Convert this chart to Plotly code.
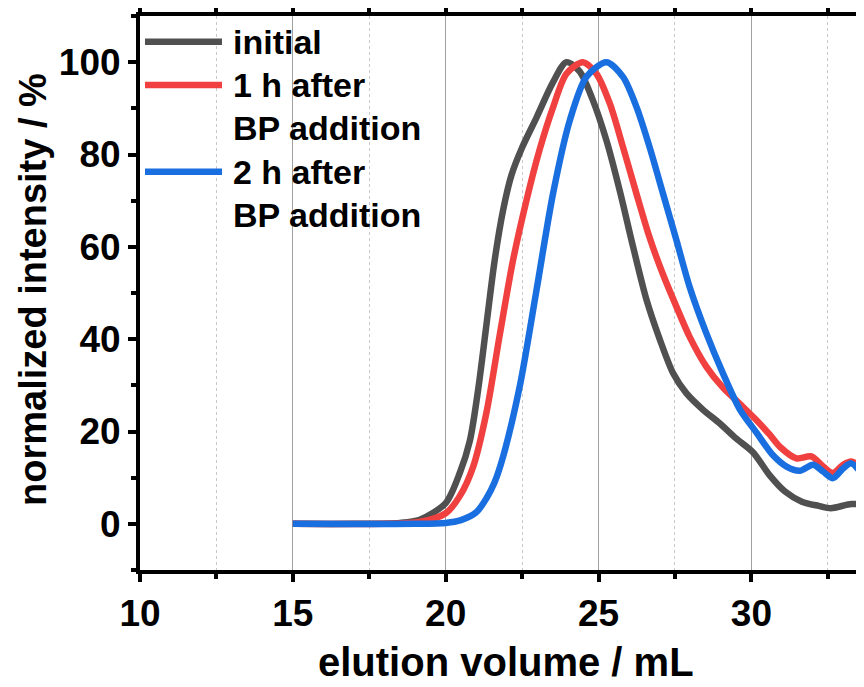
import plotly.graph_objects as go

# ---- data ----
initial_x = [15, 17, 18.5, 19.15, 20, 20.46, 20.79, 21.06, 21.33, 21.6, 21.88, 22.15, 22.5, 22.97,
             23.5, 23.95, 24.38, 24.8, 25.26, 25.7, 26.13, 26.57, 27.0, 27.44, 27.87, 28.42, 28.96,
             29.5, 30.05, 30.6, 31.1, 31.65, 32.2, 32.6, 33.27, 33.7, 34.0]
initial_y = [0, 0, 0.2, 0.9, 4.5, 11, 18, 29, 43, 57, 68, 75.5, 81.5, 88,
             95.5, 100, 98, 92, 83, 72, 60, 48.5, 40, 32.6, 28.3, 24.7, 21.8,
             18.5, 15.5, 10.5, 7.0, 4.8, 3.9, 3.4, 4.3, 4.1, 3.8]

h1_x = [15, 18, 19.15, 20, 20.46, 20.9, 21.33, 21.77, 22.2, 22.64, 23.07, 23.5, 23.95, 24.49,
        24.93, 25.37, 25.8, 26.24, 26.67, 27.11, 27.55, 27.98, 28.53, 29.07, 29.62, 30.16,
        30.6, 30.93, 31.47, 31.96, 32.35, 32.67, 33.0, 33.27, 33.7, 34.0]
h1_y = [0, 0, 0.4, 2.3, 6, 12.4, 24, 41, 57, 70, 81, 90, 97.5, 100,
        97.5, 91, 81.6, 71.5, 62, 54, 47, 40.5, 34, 29.5, 26, 22.5,
        19.3, 16.7, 14.2, 14.6, 12.4, 11, 12.8, 13.5, 12, 10.5]

h2_x = [15, 19, 20.0, 20.5, 21.0, 21.33, 21.6, 21.88, 22.42, 22.97, 23.51, 24.06, 24.6, 25.26, 25.8,
        26.24, 26.67, 27.11, 27.55, 27.98, 28.53, 29.07, 29.62, 30.16, 30.7, 31.15, 31.58,
        32.02, 32.35, 32.67, 33.0, 33.27, 33.7, 34.0]
h2_y = [0, 0, 0.2, 0.8, 2.5, 5.5, 9, 14.6, 29.7, 50.6, 71.5, 87.4, 96.8, 100, 96.8,
        90.3, 81.6, 71.5, 61.4, 51.3, 41.2, 32.6, 24.8, 19.8, 14.9, 12.4, 11.5,
        12.8, 11.3, 9.9, 12, 13.1, 10.2, 8.5]

series_names = ["initial", "1 h after<br>BP addition", "2 h after<br>BP addition"]
series_colors = ["#505050", "#f04040", "#1a6fe0"]

x_ticks = [10, 15, 20, 25, 30]
y_ticks = [0, 20, 40, 60, 80, 100]

FONT = "Arial, 'Liberation Sans', sans-serif"

# page geometry (the html body adds an 8 px offset)
top_px, bot_px, left_px, width_px = 16, 570, 140, 732
def py(p):
    return (bot_px - p) / (bot_px - top_px)
def px(p):
    return (p - left_px) / width_px

fig = go.Figure()
for xs, ys, name, col in zip([initial_x, h1_x, h2_x], [initial_y, h1_y, h2_y],
                             series_names, series_colors):
    fig.add_trace(go.Scatter(x=xs, y=ys, mode="lines", name=name,
                             line=dict(color=col, width=6.5, shape="spline", smoothing=0.8),
                             showlegend=False))

# manual legend (long line samples as in the reference)
leg_rows = [(41.7, ["initial"]), (85, ["1 h after", "BP addition"]), (171.7, ["2 h after", "BP addition"])]
for (ypix, lines), col in zip(leg_rows, series_colors):
    fig.add_shape(type="line", xref="paper", yref="paper",
                  x0=px(145), x1=px(222), y0=py(ypix), y1=py(ypix),
                  line=dict(color=col, width=6.5))
    for i, t in enumerate(lines):
        fig.add_annotation(text=t, xref="paper", yref="paper", x=px(231), y=py(ypix + 43 * i),
                           xanchor="left", yanchor="middle", showarrow=False,
                           font=dict(family=FONT, size=34, color="black", weight="bold"))

# right-edge tick stubs (cut-off right axis)
for v in y_ticks:
    fig.add_shape(type="line", xref="paper", yref="y", x0=px(861), x1=px(868), y0=v, y1=v,
                  line=dict(color="black", width=4))

# axis titles
fig.add_annotation(text="elution volume / mL", xref="paper", yref="paper",
                   x=px(506), y=py(662), xanchor="center", yanchor="middle", showarrow=False,
                   font=dict(family=FONT, size=40, color="black", weight="bold"))
fig.add_annotation(text="normalized intensity / %", xref="paper", yref="paper",
                   x=px(33), y=py(290), xanchor="center", yanchor="middle", showarrow=False,
                   textangle=-90,
                   font=dict(family=FONT, size=38, color="black", weight="bold"))

fig.update_layout(
    width=864, height=687,
    margin=dict(l=132, r=0, t=8, b=125, autoexpand=False),
    plot_bgcolor="white", paper_bgcolor="white",
    font=dict(family=FONT, color="black"),
)
fig.update_xaxes(range=[10, 10 + 732 / 30.57], tickvals=x_ticks,
                 showline=True, linewidth=4, linecolor="black", mirror="allticks",
                 ticks="outside", ticklen=8, tickwidth=4, tickcolor="black",
                 tickfont=dict(family=FONT, size=37, color="black", weight="bold"),
                 showgrid=True, gridcolor="#a0a0a0", gridwidth=1, zeroline=False,
                 minor=dict(dtick=2.5, tick0=10, ticks="outside", ticklen=5, tickwidth=4,
                            tickcolor="black", showgrid=True, gridcolor="#c8c8c8",
                            griddash="dot", gridwidth=1))
fig.update_yaxes(range=[-10, 110], tickvals=y_ticks,
                 showline=True, linewidth=4, linecolor="black", mirror=False,
                 ticks="outside", ticklen=8, tickwidth=4, tickcolor="black",
                 tickfont=dict(family=FONT, size=37, color="black", weight="bold"),
                 showgrid=False, zeroline=False,
                 minor=dict(dtick=10, tick0=-10, ticks="outside", ticklen=5, tickwidth=4,
                            tickcolor="black", showgrid=False))

fig.write_html("out.html")
